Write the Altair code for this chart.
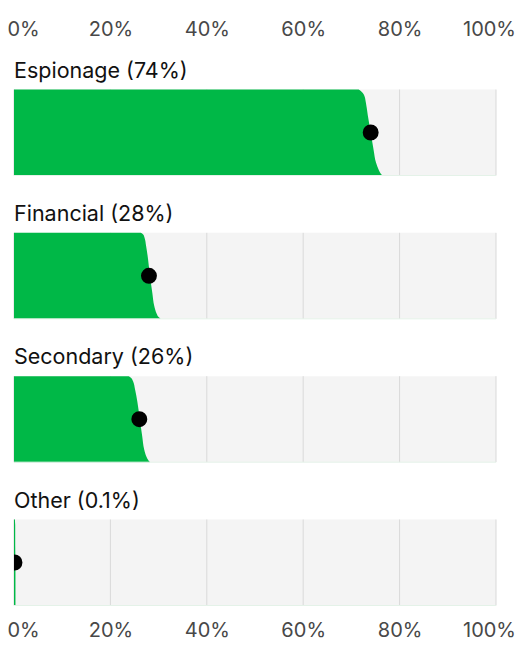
import altair as alt
import pandas as pd

# ---- data ----
categories = ["Espionage", "Financial", "Secondary", "Other"]
title_labels = ["Espionage (74%)", "Financial (28%)", "Secondary (26%)", "Other (0.1%)"]
shares = [74, 28, 26, 0.1]

# fraction down each bar (0 = top, 1 = bottom) at which the green edge was read
edge_fracs = [0.0, 0.02, 0.06, 0.15, 0.30, 0.50, 0.70, 0.85, 0.94, 0.98, 1.0]
edge_espionage = [71.5, 72.0, 72.6, 73.0, 73.4, 74.0, 74.6, 75.1, 75.7, 76.1, 76.4]
edge_financial = [26.3, 26.8, 27.1, 27.4, 27.8, 28.2, 28.7, 29.1, 29.6, 30.0, 30.4]
edge_secondary = [23.8, 24.3, 24.7, 25.1, 25.6, 26.1, 26.6, 27.0, 27.5, 27.9, 28.2]
edge_other = [0.2, 0.2, 0.25, 0.25, 0.25, 0.3, 0.3, 0.3, 0.3, 0.3, 0.3]
edges = [edge_espionage, edge_financial, edge_secondary, edge_other]

tick_values = [0, 20, 40, 60, 80, 100]
grid_values = [0, 20, 40, 60, 80, 100]

# ---- layout (style) ----
BAR = 86.0
PITCH = 143.33
W = 482
H = 516
GREEN = "#00b847"
BG = "#f4f4f4"
GRID = "#d9d9d9"
FONT = "Inter"

# ---- tables built from the arrays ----
panels = pd.DataFrame({
    "cat": categories,
    "label": title_labels,
    "share": shares,
    "top": [i * PITCH for i in range(len(categories))],
})
panels["bottom"] = panels["top"] + BAR
panels["mid"] = panels["top"] + BAR / 2
panels["x0"] = 0
panels["x1"] = 100

area_rows = []
for i, c in enumerate(categories):
    for f, e in zip(edge_fracs, edges[i]):
        area_rows.append({"cat": c, "frac": f, "edge": e, "base": 0,
                          "y": panels.loc[i, "top"] + f * BAR})
area_df = pd.DataFrame(area_rows)

grid_rows = []
for i, c in enumerate(categories):
    for g in grid_values:
        grid_rows.append({"cat": c, "g": g, "top": panels.loc[i, "top"],
                          "bottom": panels.loc[i, "bottom"]})
grid_df = pd.DataFrame(grid_rows)

xscale = alt.Scale(domain=[0, 100], nice=False, zero=False)
yscale = alt.Scale(domain=[0, H], nice=False, zero=False, reverse=True)

label_expr = "datum.value + '%'"
edge_offset = {"condition": [{"test": "datum.value === 0", "value": 9},
                             {"test": "datum.value === 100", "value": -7}],
               "value": 0}

axis_common = dict(values=tick_values, labelExpr=label_expr, domain=False, ticks=False,
                   grid=False, labelFontSize=20, labelColor="#484848", labelFont=FONT,
                   title=None, labelFlush=False, labelOverlap=False,
                   labelOffset=edge_offset)

bg = alt.Chart(panels).mark_rect(color=BG).encode(
    x=alt.X("x0:Q", scale=xscale,
            axis=alt.Axis(orient="top", labelPadding=50, **axis_common)),
    x2="x1:Q",
    y=alt.Y("top:Q", scale=yscale, axis=None),
    y2="bottom:Q",
)

grid = alt.Chart(grid_df).mark_rule(color=GRID, strokeWidth=1).encode(
    x=alt.X("g:Q", scale=xscale,
            axis=alt.Axis(orient="bottom", labelPadding=15, **axis_common)),
    y=alt.Y("top:Q", scale=yscale, axis=None),
    y2="bottom:Q",
)

area = alt.Chart(area_df).mark_area(color=GREEN, orient="horizontal",
                                    interpolate="monotone", opacity=1).encode(
    x=alt.X("edge:Q", scale=xscale, axis=None, stack=None),
    x2="base:Q",
    y=alt.Y("y:Q", scale=yscale, axis=None),
    detail="cat:N",
)

baseline = alt.Chart(panels).mark_rule(color="#e4f2e8", strokeWidth=1).encode(
    x=alt.X("x0:Q", scale=xscale, axis=None),
    x2="x1:Q",
    y=alt.Y("bottom:Q", scale=yscale, axis=None),
)

dots = alt.Chart(panels).mark_circle(color="#000000", opacity=1, size=254, clip=True).encode(
    x=alt.X("share:Q", scale=xscale, axis=None),
    y=alt.Y("mid:Q", scale=yscale, axis=None),
)

titles = alt.Chart(panels).mark_text(align="left", baseline="alphabetic", dy=-11.8,
                                     fontSize=21.5, font=FONT, color="#111111").encode(
    x=alt.X("x0:Q", scale=xscale, axis=None),
    y=alt.Y("top:Q", scale=yscale, axis=None),
    text="label:N",
)

chart = alt.layer(bg, grid, area, baseline, dots, titles).resolve_axis(
    x="independent"
).properties(
    width=W, height=H,
    autosize=alt.AutoSizeParams(type="none"),
    padding={"left": 6, "top": 81.5, "right": 20, "bottom": 36},
).configure_view(stroke=None)

chart.save("out.html", embed_options={"renderer": "svg", "actions": False})
